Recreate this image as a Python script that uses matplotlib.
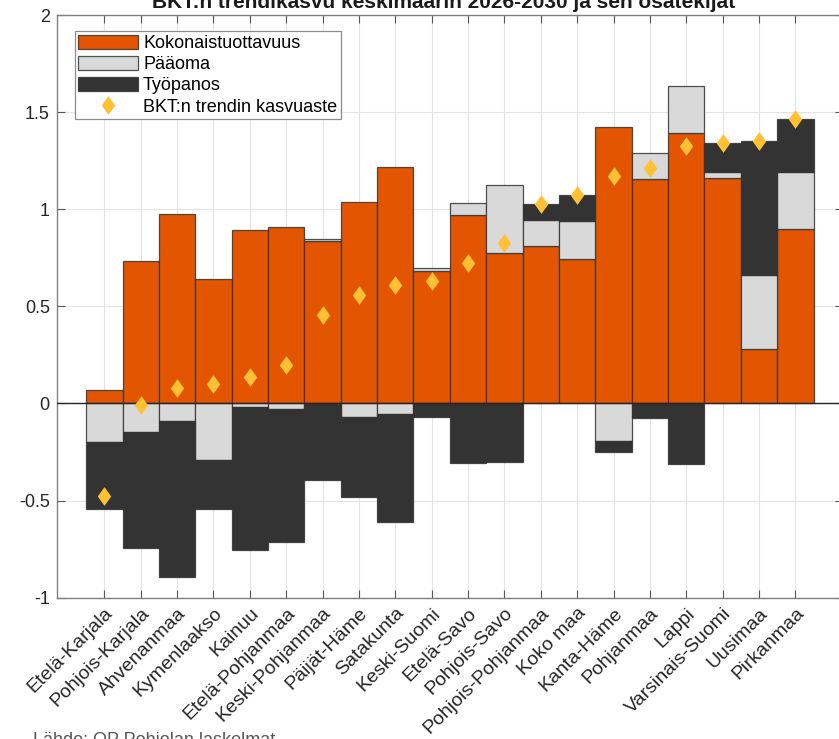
import numpy as np
import matplotlib
matplotlib.use("Agg")
import matplotlib.pyplot as plt
from matplotlib.path import Path

plt.rcParams['font.family'] = ['Liberation Sans', 'DejaVu Sans']

# ---- data ----
regions = ["Etelä-Karjala", "Pohjois-Karjala", "Ahvenanmaa", "Kymenlaakso", "Kainuu",
           "Etelä-Pohjanmaa", "Keski-Pohjanmaa", "Päijät-Häme", "Satakunta", "Keski-Suomi",
           "Etelä-Savo", "Pohjois-Savo", "Pohjois-Pohjanmaa", "Koko maa", "Kanta-Häme",
           "Pohjanmaa", "Lappi", "Varsinais-Suomi", "Uusimaa", "Pirkanmaa"]
tfp = [0.069, 0.735, 0.976, 0.642, 0.893, 0.910, 0.838, 1.039, 1.220, 0.683,
       0.969, 0.777, 0.809, 0.746, 1.423, 1.157, 1.392, 1.162, 0.278, 0.896]
capital = [-0.198, -0.146, -0.090, -0.292, -0.016, -0.029, 0.010, -0.072, -0.052, 0.017,
           0.061, 0.348, 0.137, 0.193, -0.194, 0.132, 0.245, 0.031, 0.385, 0.294]
labour = [-0.347, -0.598, -0.805, -0.251, -0.740, -0.684, -0.392, -0.408, -0.558, -0.071,
          -0.309, -0.301, 0.079, 0.136, -0.056, -0.076, -0.314, 0.147, 0.689, 0.272]
trend = [-0.476, -0.009, 0.081, 0.099, 0.137, 0.197, 0.456, 0.559, 0.610, 0.629,
         0.721, 0.824, 1.025, 1.075, 1.173, 1.213, 1.323, 1.340, 1.352, 1.462]
series_names = ["Kokonaistuottavuus", "Pääoma", "Työpanos"]
trend_name = "BKT:n trendin kasvuaste"
yticks = [-1, -0.5, 0, 0.5, 1, 1.5, 2]
ytick_labels = ["-1", "-0.5", "0", "0.5", "1", "1.5", "2"]
title = "BKT:n trendikasvu keskimäärin 2026-2030 ja sen osatekijät"
source = "Lähde: OP Pohjolan laskelmat"

colors = ["#E35500", "#D9D9D9", "#333333"]
diamond_color = "#FFC034"

W, H = 839, 739
fig = plt.figure(figsize=(W / 100, H / 100), dpi=100)
ax = fig.add_axes([56.7 / W, 1 - 597.7 / H, 786.3 / W, 582.7 / H])

x = np.arange(1, len(regions) + 1)
pos_base = np.zeros(len(x))
neg_base = np.zeros(len(x))
handles = []
for vals, col, name in zip([tfp, capital, labour], colors, series_names):
    v = np.array(vals)
    bottom = np.where(v >= 0, pos_base, neg_base)
    b = ax.bar(x, v, width=1.0, bottom=bottom, color=col, edgecolor=(0.2, 0.2, 0.2, 0.85),
               linewidth=0.9, label=name, zorder=2)
    handles.append(b)
    pos_base = pos_base + np.where(v >= 0, v, 0)
    neg_base = neg_base + np.where(v < 0, v, 0)

ax.axhline(0, color="#262626", lw=1.0, zorder=3)

diamond = Path([(0, 1), (0.72, 0), (0, -1), (-0.72, 0), (0, 1)],
               [Path.MOVETO, Path.LINETO, Path.LINETO, Path.LINETO, Path.CLOSEPOLY])
ln, = ax.plot(x, trend, ls='none', marker=diamond, ms=13.5, color=diamond_color,
              mec='none', zorder=4, label=trend_name)
handles.append(ln)

ax.set_xlim(1 - 1.31, len(x) + 1.31)
ax.set_ylim(-1, 2)
ax.set_yticks(yticks)
ax.set_yticklabels(ytick_labels, fontsize=13, color="#262626")
ax.set_xticks(x)
ax.set_xticklabels(regions, rotation=45, ha='right', va='top', rotation_mode='anchor',
                   fontsize=14, color="#262626")
ax.tick_params(axis='both', direction='in', length=5.8, width=0.8, color="#555555",
               top=True, right=True, pad=5)
ax.grid(True, color="#E3E3E3", lw=0.8, zorder=0)
ax.set_axisbelow(True)
for s in ax.spines.values():
    s.set_color("#808080")
    s.set_linewidth(1.0)

leg = ax.legend(handles=handles, loc='upper left',
                bbox_to_anchor=(74.5 / W, 1 - 31 / H), bbox_transform=fig.transFigure,
                borderaxespad=0, fontsize=13, frameon=True, fancybox=False,
                handlelength=3.3, handleheight=0.82, handletextpad=0.3,
                borderpad=0.2, labelspacing=0.22, numpoints=1)
leg.get_frame().set_edgecolor("#8C8C8C")
leg.get_frame().set_linewidth(0.9)
leg.get_frame().set_alpha(1)

fig.text(443.5 / W, 1 - 8.3 / H, title, ha='center', va='baseline', fontsize=15,
         fontweight='bold', color="#1a1a1a")
fig.text(32.7 / W, -6 / H, source, ha='left', va='baseline', fontsize=13, color="#555555")

fig.savefig("out.png", dpi=100)
